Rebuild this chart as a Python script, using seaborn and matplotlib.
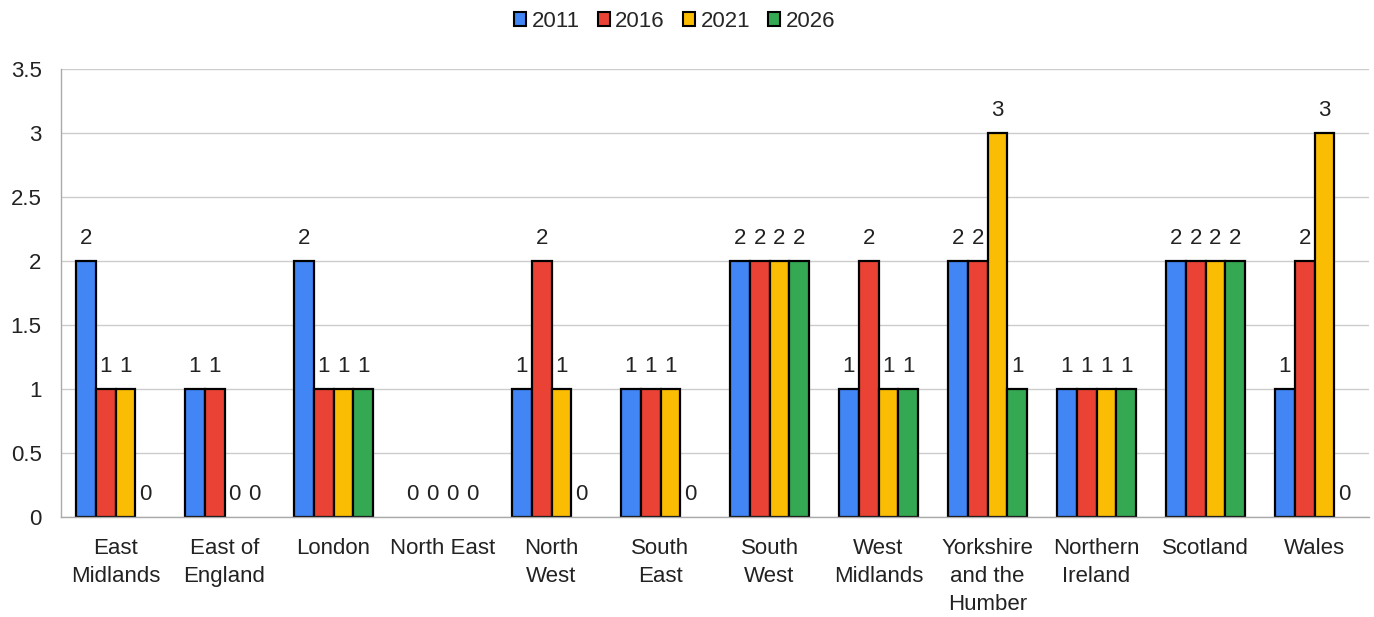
import matplotlib
matplotlib.use("Agg")
import matplotlib.pyplot as plt
from matplotlib.patches import Patch
import seaborn as sns
import pandas as pd

regions = ["East\nMidlands", "East of\nEngland", "London", "North East", "North\nWest",
           "South\nEast", "South\nWest", "West\nMidlands", "Yorkshire\nand the\nHumber",
           "Northern\nIreland", "Scotland", "Wales"]
years = ["2011", "2016", "2021", "2026"]
v2011 = [2, 1, 2, 0, 1, 1, 2, 1, 2, 1, 2, 1]
v2016 = [1, 1, 1, 0, 2, 1, 2, 2, 2, 1, 2, 2]
v2021 = [1, 0, 1, 0, 1, 1, 2, 1, 3, 1, 2, 3]
v2026 = [0, 0, 1, 0, 0, 0, 2, 1, 1, 1, 2, 0]
colors = ["#4285F4", "#EA4335", "#FBBC04", "#34A853"]

rows = []
for yr, vals in zip(years, [v2011, v2016, v2021, v2026]):
    for reg, v in zip(regions, vals):
        rows.append({"region": reg, "year": yr, "value": v})
df = pd.DataFrame(rows)

sns.set_theme(style="whitegrid")
plt.rcParams["font.family"] = ["Liberation Sans", "DejaVu Sans"]

fig = plt.figure(figsize=(13.74, 6.17), dpi=100)
ax = fig.add_axes([0.0444, 0.162, 0.952, 0.726])

sns.barplot(data=df, x="region", y="value", hue="year", order=regions,
            hue_order=years, palette=colors, width=0.73, ax=ax,
            edgecolor="black", linewidth=1.6, saturation=1, errorbar=None,
            legend=False)

for cont in ax.containers:
    for b in cont:
        if b.get_height() == 0:
            b.set_linewidth(0)
    ax.bar_label(cont, labels=[f"{int(b.get_height())}" for b in cont],
                 padding=9, fontsize=16, color="#222222")

ax.set_ylim(0, 3.5)
ax.set_yticks([0, 0.5, 1, 1.5, 2, 2.5, 3, 3.5])
ax.set_yticklabels(["0", "0.5", "1", "1.5", "2", "2.5", "3", "3.5"])
ax.set_xlim(-0.5, len(regions) - 0.5)
ax.set_xlabel("")
ax.set_ylabel("")
ax.grid(axis="y", color="#cccccc", linewidth=1)
ax.grid(axis="x", visible=False)
ax.set_axisbelow(True)
for side in ["top", "right"]:
    ax.spines[side].set_visible(False)
for side in ["left", "bottom"]:
    ax.spines[side].set_visible(True)
    ax.spines[side].set_color("#aaaaaa")
    ax.spines[side].set_linewidth(1)
ax.tick_params(axis="x", length=0, pad=15, labelsize=16, colors="#222222")
ax.tick_params(axis="y", length=0, pad=14, labelsize=16, colors="#222222")
for t in ax.get_xticklabels():
    t.set_linespacing(1.45)
    t.set_verticalalignment("top")

handles = [Patch(facecolor=c, edgecolor="black", linewidth=1.5, label=y)
           for c, y in zip(colors, years)]
ax.legend(handles=handles, loc="center", bbox_to_anchor=(0.469, 1.107), ncol=4,
          frameon=False, fontsize=16, handlelength=0.55, handleheight=0.55,
          handletextpad=0.25, columnspacing=0.8, borderaxespad=0)

fig.savefig("out.png", dpi=100, facecolor="white")
